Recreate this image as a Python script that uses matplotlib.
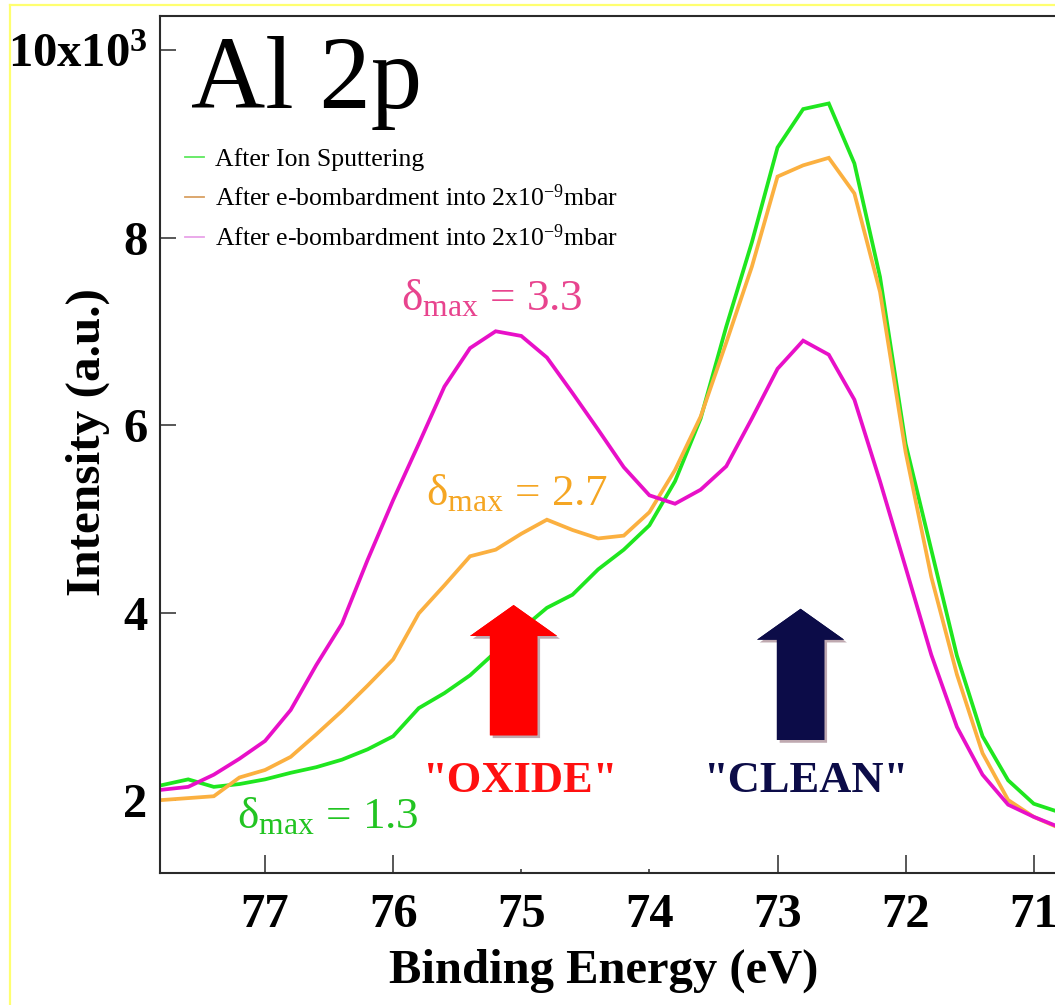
import matplotlib
matplotlib.use("Agg")
import matplotlib.pyplot as plt
from matplotlib.lines import Line2D
from matplotlib.patches import FancyArrow
import matplotlib.patheffects as pe

plt.rcParams['font.family'] = ['Liberation Serif', 'DejaVu Serif']
plt.rcParams['mathtext.fontset'] = 'custom'
plt.rcParams['mathtext.rm'] = 'Liberation Serif'
plt.rcParams['mathtext.it'] = 'Liberation Serif:italic'
plt.rcParams['mathtext.bf'] = 'Liberation Serif:bold'

# ---------------- data ----------------
energy = [77.8, 77.6, 77.4, 77.2, 77.0, 76.8, 76.6, 76.4, 76.2, 76.0,
          75.8, 75.6, 75.4, 75.2, 75.0, 74.8, 74.6, 74.4, 74.2, 74.0,
          73.8, 73.6, 73.4, 73.2, 73.0, 72.8, 72.6, 72.4, 72.2, 72.0,
          71.8, 71.6, 71.4, 71.2, 71.0, 70.8]

ion_sputtering = [2.16, 2.22, 2.14, 2.17, 2.22, 2.29, 2.35, 2.43, 2.54, 2.68,
                  2.98, 3.14, 3.33, 3.58, 3.82, 4.05, 4.19, 4.46, 4.67, 4.93,
                  5.40, 6.07, 7.05, 7.95, 8.96, 9.37, 9.43, 8.79, 7.58, 5.80,
                  4.67, 3.54, 2.68, 2.21, 1.96, 1.87]

ebomb_1 = [2.00, 2.02, 2.04, 2.24, 2.32, 2.46, 2.70, 2.95, 3.22, 3.50,
           3.99, 4.29, 4.60, 4.67, 4.84, 4.99, 4.88, 4.79, 4.82, 5.07,
           5.52, 6.09, 6.88, 7.69, 8.65, 8.77, 8.85, 8.47, 7.42, 5.71,
           4.38, 3.34, 2.50, 2.00, 1.82, 1.70]

ebomb_2 = [2.11, 2.14, 2.27, 2.44, 2.63, 2.96, 3.44, 3.88, 4.56, 5.20,
           5.80, 6.41, 6.82, 7.00, 6.95, 6.72, 6.34, 5.95, 5.55, 5.25,
           5.16, 5.31, 5.56, 6.07, 6.60, 6.90, 6.75, 6.27, 5.40, 4.48,
           3.55, 2.78, 2.27, 1.95, 1.82, 1.71]

series_labels = ["After Ion Sputtering",
                 "After e-bombardment into 2x10$^{-9}$mbar",
                 "After e-bombardment into 2x10$^{-9}$mbar"]

xtick_values = [77, 76, 75, 74, 73, 72, 71]
xtick_labels = ["77", "76", "75", "74", "73", "72", "71"]
ytick_values = [2, 4, 6, 8, 10]
ytick_labels = ["2", "4", "6", "8", r"10x10$^{\mathbf{3}}$"]

delta_texts = ["3.3", "2.7", "1.3"]
region_labels = ['"OXIDE"', '"CLEAN"']
arrow_x = [75.06, 72.82]

# ---------------- figure ----------------
W, H = 1055, 1005
fig = plt.figure(figsize=(W / 100, H / 100), dpi=100)
fig.patch.set_facecolor('white')

# thin yellow frame lines (left & top)
fig.add_artist(Line2D([10 / W, 10 / W], [0, 1 - 5 / H], color='#ffff70', lw=1.6))
fig.add_artist(Line2D([10 / W, 1.0], [1 - 5 / H, 1 - 5 / H], color='#ffff70', lw=1.6))

ax = fig.add_axes([160 / W, (H - 873.3) / H, 925 / W, 857.3 / H])
ax.set_xlim(77.82, 70.60)
ax.set_ylim(1.218, 10.363)

c_green = '#1fe61f'
c_orange = '#fbb040'
c_mag = '#e810c8'

ax.plot(energy, ion_sputtering, color=c_green, lw=2.7, solid_joinstyle='miter')
ax.plot(energy, ebomb_1, color=c_orange, lw=2.7, solid_joinstyle='miter')
ax.plot(energy, ebomb_2, color=c_mag, lw=2.7, solid_joinstyle='miter')

# spines / ticks
for s in ['left', 'bottom', 'top']:
    ax.spines[s].set_linewidth(1.5)
    ax.spines[s].set_color('#2a2a2a')
ax.spines['right'].set_visible(False)

ax.set_xticks(xtick_values)
ax.set_xticklabels(xtick_labels)
ax.set_yticks(ytick_values)
ax.set_yticklabels(ytick_labels)
ax.tick_params(axis='x', direction='in', length=13, width=1.1, color='#2a2a2a',
               labelsize=35, pad=14, top=False)
ax.tick_params(axis='y', direction='in', length=11.5, width=1.1, color='#2a2a2a',
               labelsize=35, pad=9, right=False)
for lab in ax.get_xticklabels() + ax.get_yticklabels():
    lab.set_fontweight('bold')
for i, t in enumerate(ax.xaxis.get_major_ticks()):
    if xtick_labels[i] in ("75", "74"):
        t.tick1line.set_markersize(3)

ax.set_xlabel("Binding Energy (eV)", fontsize=35, fontweight='bold')
ax.xaxis.set_label_coords(0.48, -0.088)
ax.set_ylabel("Intensity (a.u.)", fontsize=35.5, fontweight='bold')
ax.yaxis.set_label_coords(-0.078, 0.503)
ax.yaxis.label.set_va('center')

# title
ax.text(31 / 925, (873.3 - 108) / 857.3, "Al 2p", transform=ax.transAxes,
        fontsize=74, va='baseline', ha='left', color='black')

# legend
handles = [Line2D([], [], color='#5ee85e', lw=1.3),
           Line2D([], [], color='#d9a062', lw=1.3),
           Line2D([], [], color='#e8a2e8', lw=1.3)]
leg = ax.legend(handles, series_labels, loc='upper left',
                bbox_to_anchor=(185 / W, 1 - 148 / H), bbox_transform=fig.transFigure,
                frameon=False, fontsize=18.5, handlelength=0.75, handletextpad=0.42,
                labelspacing=0.52, borderpad=0, borderaxespad=0)

# delta_max annotations
ax.text(75.94, 7.23, "δ$_{\\mathrm{max}}$ = " + delta_texts[0], color='#e8448e',
        fontsize=32.5, va='baseline', ha='left')
ax.text(75.74, 5.15, "δ$_{\\mathrm{max}}$ = " + delta_texts[1], color='#f5a623',
        fontsize=32.5, va='baseline', ha='left')
ax.text(77.22, 1.70, "δ$_{\\mathrm{max}}$ = " + delta_texts[2], color='#22c422',
        fontsize=32.5, va='baseline', ha='left')

# arrows
shadow = [pe.withSimplePatchShadow(offset=(2, -2), shadow_rgbFace='#b8a0a8', alpha=0.9),
          pe.Normal()]
arrow_colors = ['#ff0000', '#0c0c48']
arrow_base = [2.69, 2.64]
arrow_tip = [4.08, 4.04]
for xa, yb, yt, col in zip(arrow_x, arrow_base, arrow_tip, arrow_colors):
    arr = FancyArrow(xa, yb, 0, yt - yb, width=0.37, head_width=0.68,
                     head_length=0.33, length_includes_head=True,
                     color=col, lw=0, zorder=3)
    arr.set_path_effects(shadow)
    ax.add_patch(arr)

ax.text(75.01, 2.085, region_labels[0], color='#ff1010', fontsize=32,
        fontweight='bold', ha='center', va='baseline')
ax.text(72.78, 2.085, region_labels[1], color='#0c0c48', fontsize=32,
        fontweight='bold', ha='center', va='baseline')

fig.savefig("out.png", dpi=100)
